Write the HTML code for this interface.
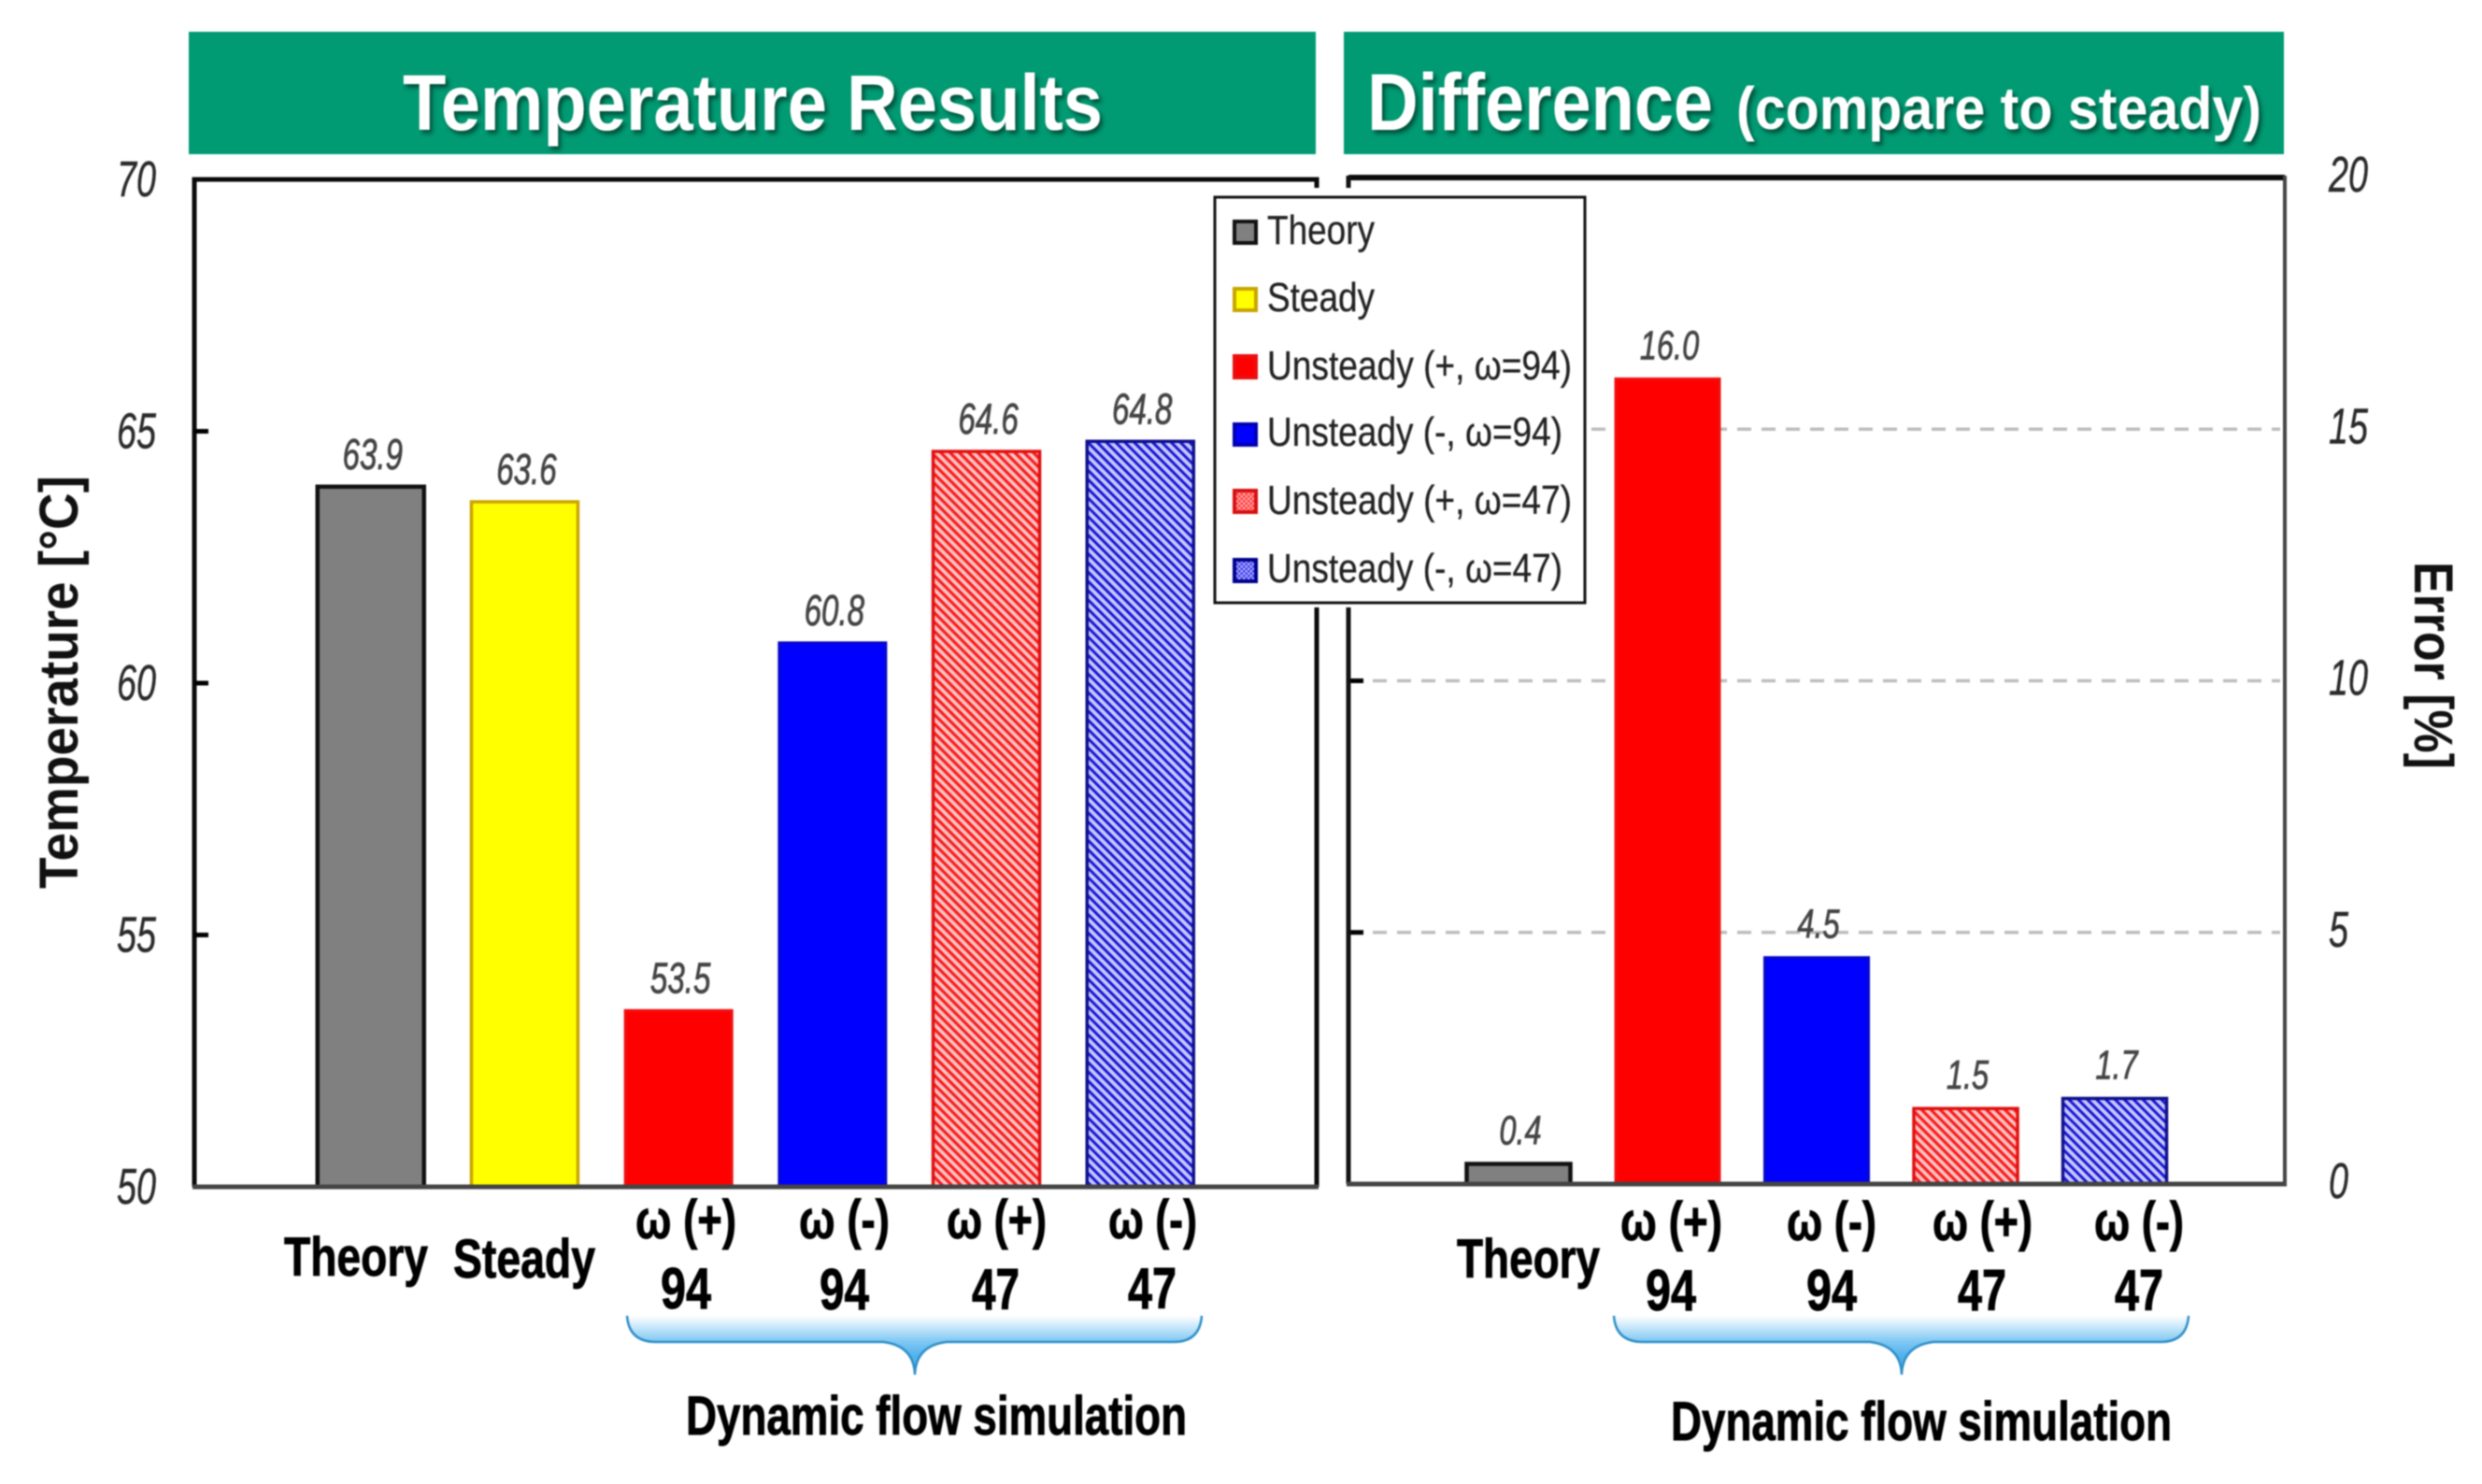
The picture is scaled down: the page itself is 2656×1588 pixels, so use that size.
<!DOCTYPE html>
<html lang="en">
<head>
<meta charset="utf-8">
<title>Temperature Results and Difference</title>
<style>
html,body{margin:0;padding:0;background:#fff;}
svg{display:block;font-family:"Liberation Sans",sans-serif;filter:blur(0.7px);}
.cat{font-weight:bold;fill:#000;font-size:58px;stroke:#000;stroke-width:0.9px;}
.num{font-size:62px;}
.leg{font-size:44px;fill:#222;stroke:#222;stroke-width:0.3px;}
.head{font-weight:bold;fill:#fff;filter:url(#head-shadow);}
</style>
</head>
<body>
<svg id="chart" xmlns="http://www.w3.org/2000/svg" width="2656" height="1588" viewBox="0 0 2656 1588">
<defs>
<pattern id="hatch-red" width="7" height="7" patternUnits="userSpaceOnUse" patternTransform="rotate(45)"><rect width="7" height="7" fill="#ffc4c4"/><rect width="7" height="3.2" fill="#f41c1c"/></pattern>
<pattern id="hatch-blue" width="7" height="7" patternUnits="userSpaceOnUse" patternTransform="rotate(45)"><rect width="7" height="7" fill="#c8c8ff"/><rect width="7" height="3" fill="#1616d0"/></pattern>
<pattern id="check-red" width="5" height="5" patternUnits="userSpaceOnUse"><rect width="5" height="5" fill="#ffa8a8"/><rect width="2.5" height="2.5" fill="#ff3a3a"/><rect x="2.5" y="2.5" width="2.5" height="2.5" fill="#ff3a3a"/></pattern>
<pattern id="check-blue" width="5" height="5" patternUnits="userSpaceOnUse"><rect width="5" height="5" fill="#b0b0ff"/><rect width="2.5" height="2.5" fill="#3a3ae8"/><rect x="2.5" y="2.5" width="2.5" height="2.5" fill="#3a3ae8"/></pattern>
<linearGradient id="brace-fill" x1="0" y1="0" x2="0" y2="1"><stop offset="0" stop-color="#ffffff"/><stop offset="0.45" stop-color="#7cc6f2"/><stop offset="0.7" stop-color="#4fb0ec"/><stop offset="1" stop-color="#6aa8c8"/></linearGradient>
<filter id="head-shadow" x="-5%" y="-20%" width="110%" height="140%"><feDropShadow dx="3" dy="4" stdDeviation="2" flood-color="#003a2a" flood-opacity="0.75"/></filter>
</defs>

<rect x="202" y="34" width="1206" height="131" fill="#009a73"/>
<rect x="1438" y="34" width="1006" height="131" fill="#009a73"/>
<text class="head" x="431" y="139" font-size="84" textLength="749" lengthAdjust="spacingAndGlyphs">Temperature Results</text>
<text class="head" x="1463" y="139" font-size="86" textLength="370" lengthAdjust="spacingAndGlyphs">Difference</text>
<text class="head" x="1858" y="138" font-size="64" textLength="562" lengthAdjust="spacingAndGlyphs">(compare to steady)</text>

<g id="left-plot"></g>
<g id="right-plot"></g>

<text transform="translate(83,730) rotate(-90)" text-anchor="middle" font-weight="bold" font-size="58" fill="#111" textLength="442" lengthAdjust="spacingAndGlyphs">Temperature [°C]</text>
<text transform="translate(2584,712) rotate(90)" text-anchor="middle" font-weight="bold" font-size="58" fill="#111" textLength="222" lengthAdjust="spacingAndGlyphs">Error [%]</text>

<g>
<text class="cat" x="304" y="1365" textLength="154" lengthAdjust="spacingAndGlyphs">Theory</text>
<text class="cat" x="485" y="1367" textLength="152" lengthAdjust="spacingAndGlyphs">Steady</text>
<text class="cat" x="680" y="1325" textLength="108" lengthAdjust="spacingAndGlyphs">ω (+)</text>
<text class="cat" x="855" y="1325" textLength="97" lengthAdjust="spacingAndGlyphs">ω (-)</text>
<text class="cat" x="1013" y="1325" textLength="107" lengthAdjust="spacingAndGlyphs">ω (+)</text>
<text class="cat" x="1186" y="1325" textLength="95" lengthAdjust="spacingAndGlyphs">ω (-)</text>
<text class="cat num" x="707" y="1400" textLength="54" lengthAdjust="spacingAndGlyphs">94</text>
<text class="cat num" x="877" y="1401" textLength="53" lengthAdjust="spacingAndGlyphs">94</text>
<text class="cat num" x="1040" y="1401" textLength="51" lengthAdjust="spacingAndGlyphs">47</text>
<text class="cat num" x="1207" y="1400" textLength="52" lengthAdjust="spacingAndGlyphs">47</text>
</g>
<g>
<path d="M671 1408 Q673 1436 702 1436 L945 1436 Q978 1440 979 1471 Q980 1440 1013 1436 L1256 1436 Q1284 1436 1286 1408 Z" fill="url(#brace-fill)"/>
<path d="M671 1408 Q673 1436 702 1436 L945 1436 Q978 1440 979 1471 Q980 1440 1013 1436 L1256 1436 Q1284 1436 1286 1408" fill="none" stroke="#2f8fc8" stroke-width="2.5"/>
</g>
<text class="cat" x="734" y="1535" textLength="536" lengthAdjust="spacingAndGlyphs">Dynamic flow simulation</text>

<g>
<text class="cat" x="1559" y="1367" textLength="153" lengthAdjust="spacingAndGlyphs">Theory</text>
<text class="cat" x="1734" y="1327" textLength="109" lengthAdjust="spacingAndGlyphs">ω (+)</text>
<text class="cat" x="1912" y="1327" textLength="96" lengthAdjust="spacingAndGlyphs">ω (-)</text>
<text class="cat" x="2068" y="1327" textLength="107" lengthAdjust="spacingAndGlyphs">ω (+)</text>
<text class="cat" x="2241" y="1327" textLength="96" lengthAdjust="spacingAndGlyphs">ω (-)</text>
<text class="cat num" x="1761" y="1402" textLength="54" lengthAdjust="spacingAndGlyphs">94</text>
<text class="cat num" x="1933" y="1402" textLength="54" lengthAdjust="spacingAndGlyphs">94</text>
<text class="cat num" x="2095" y="1402" textLength="52" lengthAdjust="spacingAndGlyphs">47</text>
<text class="cat num" x="2263" y="1402" textLength="52" lengthAdjust="spacingAndGlyphs">47</text>
</g>
<g transform="translate(1056,0)">
<path d="M671 1408 Q673 1436 702 1436 L945 1436 Q978 1440 979 1471 Q980 1440 1013 1436 L1256 1436 Q1284 1436 1286 1408 Z" fill="url(#brace-fill)"/>
<path d="M671 1408 Q673 1436 702 1436 L945 1436 Q978 1440 979 1471 Q980 1440 1013 1436 L1256 1436 Q1284 1436 1286 1408" fill="none" stroke="#2f8fc8" stroke-width="2.5"/>
</g>
<text class="cat" x="1788" y="1541" textLength="536" lengthAdjust="spacingAndGlyphs">Dynamic flow simulation</text>

<g>
<rect x="1296" y="201" width="404" height="449" fill="#fff"/>
<rect x="1300" y="211" width="396" height="434" fill="#fff" stroke="#111" stroke-width="3"/>
<g>
<rect x="1321" y="237" width="23" height="23" fill="#808080" stroke="#111" stroke-width="4"/>
<text class="leg" x="1356" y="261" textLength="115" lengthAdjust="spacingAndGlyphs">Theory</text></g>
<g>
<rect x="1321" y="309" width="23" height="23" fill="#ffff00" stroke="#c9a400" stroke-width="4"/>
<text class="leg" x="1356" y="333" textLength="115" lengthAdjust="spacingAndGlyphs">Steady</text></g>
<g>
<rect x="1321" y="381" width="23" height="23" fill="#ff0000" stroke="#e81010" stroke-width="4"/>
<text class="leg" x="1356" y="406" textLength="326" lengthAdjust="spacingAndGlyphs">Unsteady (+, ω=94)</text></g>
<g>
<rect x="1321" y="454" width="23" height="22" fill="#0000ff" stroke="#0000b0" stroke-width="4"/>
<text class="leg" x="1356" y="477" textLength="316" lengthAdjust="spacingAndGlyphs">Unsteady (-, ω=94)</text></g>
<g>
<rect x="1321" y="525" width="23" height="23" fill="url(#check-red)" stroke="#d81010" stroke-width="4"/>
<text class="leg" x="1356" y="550" textLength="326" lengthAdjust="spacingAndGlyphs">Unsteady (+, ω=47)</text></g>
<g>
<rect x="1321" y="599" width="23" height="23" fill="url(#check-blue)" stroke="#00008c" stroke-width="4"/>
<text class="leg" x="1356" y="623" textLength="316" lengthAdjust="spacingAndGlyphs">Unsteady (-, ω=47)</text></g>
</g>
</svg>

<script>
const tempCategories = ['theory', 'steady', 'plus-94', 'minus-94', 'plus-47', 'minus-47'];
const tempValues = [63.9, 63.6, 53.5, 60.8, 64.6, 64.8];
const tempLabels = ['63.9', '63.6', '53.5', '60.8', '64.6', '64.8'];
const tempTicks = [50, 55, 60, 65, 70];

const diffCategories = ['theory', 'plus-94', 'minus-94', 'plus-47', 'minus-47'];
const diffValues = [0.4, 16.0, 4.5, 1.5, 1.7];
const diffLabels = ['0.4', '16.0', '4.5', '1.5', '1.7'];
const diffTicks = [0, 5, 10, 15, 20];

const SVGNS = 'http://www.w3.org/2000/svg';
const barStyles = {
  'theory':   {fill: '#808080', stroke: '#111111', width: 4.5},
  'steady':   {fill: '#ffff00', stroke: '#c9a400', width: 3.5},
  'plus-94':  {fill: '#ff0000', stroke: '#f01010', width: 3},
  'minus-94': {fill: '#0000ff', stroke: '#0808c8', width: 3},
  'plus-47':  {fill: 'url(#hatch-red)', stroke: '#e01010', width: 3.5},
  'minus-47': {fill: 'url(#hatch-blue)', stroke: '#10108c', width: 3.5}
};

function make(tag, parent, props) {
  const el = document.createElementNS(SVGNS, tag);
  for (const k in props) el.setAttribute(k, props[k]);
  parent.appendChild(el);
  return el;
}

function yScale(domainMin, domainMax, yBottom, yTop) {
  return v => yBottom - (v - domainMin) / (domainMax - domainMin) * (yBottom - yTop);
}
function xBand(center, step, count) {
  return i => center + (i - (count - 1) / 2) * step;
}

function drawBars(root, cats, vals, labels, x, y, baseY, width, labelFont, labelScale, labelGap) {
  cats.forEach((c, i) => {
    const st = barStyles[c];
    const top = y(vals[i]);
    const bar = make('rect', root, {x: x(i) - width / 2, y: top, width: width, height: baseY - top, fill: st.fill, stroke: st.stroke, 'stroke-width': st.width});
    
    
    const t = make('text', root, {transform: 'translate(' + (x(i) + 2) + ',' + (top - labelGap) + ') scale(' + labelScale + ',1)', 'text-anchor': 'middle', 'font-style': 'italic', 'font-size': labelFont, fill: '#444', stroke: '#444', 'stroke-width': 0.8});
    t.textContent = labels[i];
    
    
  });
}

function drawTickLabel(root, text, px, py, baseOffset, anchor) {
  const t = make('text', root, {transform: 'translate(' + px + ',' + (py + baseOffset) + ') scale(0.7,1)', 'text-anchor': anchor, 'font-style': 'italic', 'font-size': 54, fill: '#2a2a2a', stroke: '#2a2a2a', 'stroke-width': 0.4});
  t.textContent = text;
  
  
}

/* Left plot */
(function () {
  const root = document.getElementById('left-plot');
  const L = 208, R = 1409, T = 192, B = 1270;
  const y = yScale(50, 70, B, T);
  const x = xBand((L + R) / 2, 164.7, tempCategories.length);
  const frame = make('path', root, {d: 'M' + L + ' ' + B + 'V' + T + 'H' + R + 'V' + B, fill: 'none', stroke: '#0a0a0a', 'stroke-width': 5});
  
  
  tempTicks.forEach(v => {
    if (v !== 50 && v !== 70) {
      const tick = make('line', root, {x1: L, x2: L + 15, y1: y(v), y2: y(v), stroke: '#000', 'stroke-width': 5});
      
      
    }
    drawTickLabel(root, String(v), 167, y(v), 18, 'end');
  });
  drawBars(root, tempCategories, tempValues, tempLabels, x, y, B, 114, 46, 0.72, 19);
  const base = make('line', root, {x1: L - 2, x2: R + 2, y1: B, y2: B, stroke: '#444', 'stroke-width': 5});
  
  
})();

/* Right plot */
(function () {
  const root = document.getElementById('right-plot');
  const L = 1443, R = 2445, T = 190, B = 1267;
  const y = yScale(0, 20, B, T);
  const x = xBand((L + R) / 2, 159.5, diffCategories.length);
  diffTicks.forEach(v => {
    if (v !== 0 && v !== 20) {
      const grid = make('line', root, {x1: L + 26, x2: R - 5, y1: y(v), y2: y(v), stroke: '#bdbdbd', 'stroke-width': 3.5, 'stroke-dasharray': '15 11'});
      
      
      const tick = make('line', root, {x1: L, x2: L + 16, y1: y(v), y2: y(v), stroke: '#000', 'stroke-width': 5});
      
      
    }
    drawTickLabel(root, String(v), 2492, y(v), 15, 'start');
  });
  const frame = make('path', root, {d: 'M' + L + ' ' + T + 'H' + R, fill: 'none', stroke: '#0a0a0a', 'stroke-width': 6});
  
  
  const sideL = make('line', root, {x1: L, x2: L, y1: T - 2, y2: B, stroke: '#111', 'stroke-width': 5});
  
  
  const sideR = make('line', root, {x1: R, x2: R, y1: T - 2, y2: B, stroke: '#444', 'stroke-width': 4});
  
  
  drawBars(root, diffCategories, diffValues, diffLabels, x, y, B, 111, 44, 0.74, 21);
  const base = make('line', root, {x1: L - 2, x2: R + 2, y1: B, y2: B, stroke: '#444', 'stroke-width': 5});
  
  
})();
</script>
</body>
</html>
